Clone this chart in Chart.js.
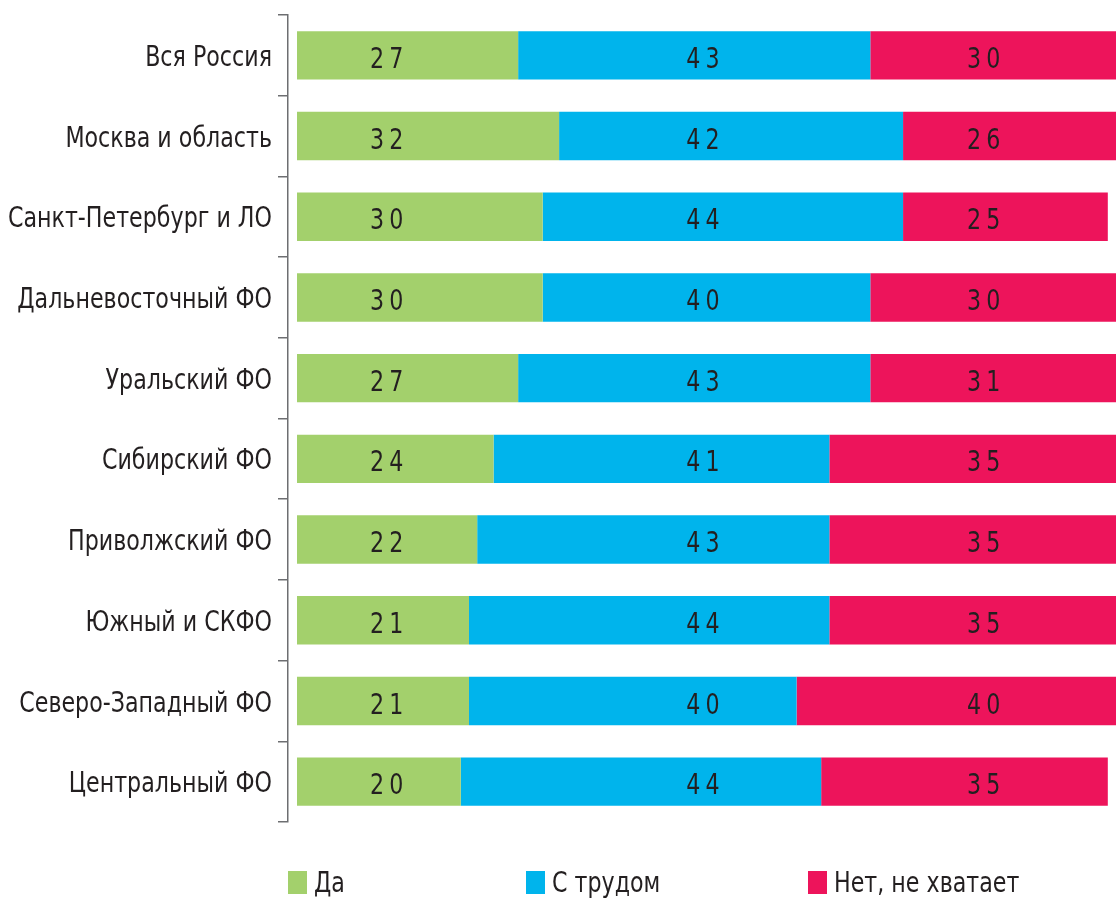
<!DOCTYPE html>
<html>
<head>
<meta charset="utf-8">
<script src="https://cdn.jsdelivr.net/npm/chart.js@4.4.1/dist/chart.umd.min.js"></script>
<style>
  html, body { margin: 0; padding: 0; background: #fff; }
  #wrap { position: relative; width: 1116px; height: 900px; }
  #legend { position: absolute; top: 871px; left: 0; width: 1116px; height: 24px;
            font-family: "DejaVu Sans Condensed", "Liberation Sans Narrow", sans-serif;
            font-size: 29px; color: #231f20; }
  .item { position: absolute; top: 0; display: flex; align-items: center; white-space: nowrap; height: 23px; }
  .sw { width: 19px; height: 23px; margin-right: 7px; flex: none; }
  .txt { display: inline-block; transform: scaleX(0.85); transform-origin: left center; line-height: 23px; }
</style>
</head>
<body>
<div id="wrap">
  <canvas id="c" width="1116" height="900"></canvas>
  <div id="legend"></div>
</div>
<script>
// Регионы (сверху вниз)
const regions = [
  'Вся Россия',
  'Москва и область',
  'Санкт-Петербург и ЛО',
  'Дальневосточный ФО',
  'Уральский ФО',
  'Сибирский ФО',
  'Приволжский ФО',
  'Южный и СКФО',
  'Северо-Западный ФО',
  'Центральный ФО'
];

// Доли ответов, %
const yes       = [27, 32, 30, 30, 27, 24, 22, 21, 21, 20];
const hardly    = [43, 42, 44, 40, 43, 41, 43, 44, 40, 44];
const notEnough = [30, 26, 25, 30, 31, 35, 35, 35, 40, 35];

const seriesNames = ['Да', 'С трудом', 'Нет, не хватает'];
const seriesColors = ['#a3d06c', '#00b4ec', '#ed145b'];
// Колонки, в которых печатаются подписи значений (в единицах оси X)
const labelColumns = [10.9, 49.5, 83.8];

const FONT = '"DejaVu Sans Condensed", "Liberation Sans Narrow", sans-serif';
const TEXT_COLOR = '#231f20';
const SQUEEZE = 0.85;   // узкое начертание
const FONT_SIZE = 29;
const CAP = 0.729 * FONT_SIZE;

// Узкий текст: рисуем со сжатием по горизонтали
function narrowText(ctx, text, x, y, align, spacing) {
  ctx.save();
  ctx.translate(x, y);
  ctx.scale(SQUEEZE, 1);
  ctx.textAlign = align;
  ctx.textBaseline = 'alphabetic';
  if ('letterSpacing' in ctx) ctx.letterSpacing = spacing + 'px';
  ctx.fillText(text, 0, CAP / 2);
  ctx.restore();
}

// Подписи категорий слева от оси
const categoryLabels = {
  id: 'categoryLabels',
  afterDraw(chart) {
    const ctx = chart.ctx;
    const ys = chart.scales.y;
    ctx.save();
    ctx.font = FONT_SIZE + 'px ' + FONT;
    ctx.fillStyle = TEXT_COLOR;
    chart.data.labels.forEach((lab, i) => {
      narrowText(ctx, lab, ys.right - 16, ys.getPixelForTick(i), 'right', 0);
    });
    ctx.restore();
  }
};

// Значения внутри сегментов
const valueLabels = {
  id: 'valueLabels',
  afterDatasetsDraw(chart) {
    const ctx = chart.ctx;
    const xs = chart.scales.x;
    ctx.save();
    ctx.font = FONT_SIZE + 'px ' + FONT;
    ctx.fillStyle = TEXT_COLOR;
    chart.data.datasets.forEach((ds, di) => {
      const meta = chart.getDatasetMeta(di);
      const x = xs.getPixelForValue(labelColumns[di]);
      meta.data.forEach((bar, i) => {
        narrowText(ctx, String(ds.data[i]), x + 3, bar.y + 2, 'center', 6);
      });
    });
    ctx.restore();
  }
};

const chart = new Chart(document.getElementById('c'), {
  type: 'bar',
  data: {
    labels: regions,
    datasets: [yes, hardly, notEnough].map((d, i) => ({
      label: seriesNames[i],
      data: d,
      backgroundColor: seriesColors[i],
      borderWidth: 0,
      barPercentage: 0.6,
      categoryPercentage: 1.0
    }))
  },
  options: {
    indexAxis: 'y',
    responsive: false,
    animation: false,
    layout: { padding: { top: 15, right: 0, bottom: 78, left: 0 } },
    plugins: { legend: { display: false }, tooltip: { enabled: false } },
    scales: {
      x: {
        stacked: true,
        display: false,
        min: -1.1,
        max: 100
      },
      y: {
        stacked: true,
        afterFit(scale) { scale.width = 288; },
        border: { display: true, color: '#6d6e71', width: 1.5 },
        grid: { display: true, drawOnChartArea: false, drawTicks: true, tickLength: 10,
                color: '#6d6e71', lineWidth: 1.5, offset: true },
        ticks: { display: false }
      }
    }
  },
  plugins: [valueLabels, categoryLabels]
});

// Легенда под диаграммой
const legendLeft = [288, 526, 808];
const legend = document.getElementById('legend');
chart.data.datasets.forEach((ds, i) => {
  const item = document.createElement('div');
  item.className = 'item';
  item.style.left = legendLeft[i] + 'px';
  const sw = document.createElement('div');
  sw.className = 'sw';
  sw.style.background = ds.backgroundColor;
  const t = document.createElement('span');
  t.className = 'txt';
  t.textContent = ds.label;
  item.appendChild(sw);
  item.appendChild(t);
  legend.appendChild(item);
});
</script>
</body>
</html>
